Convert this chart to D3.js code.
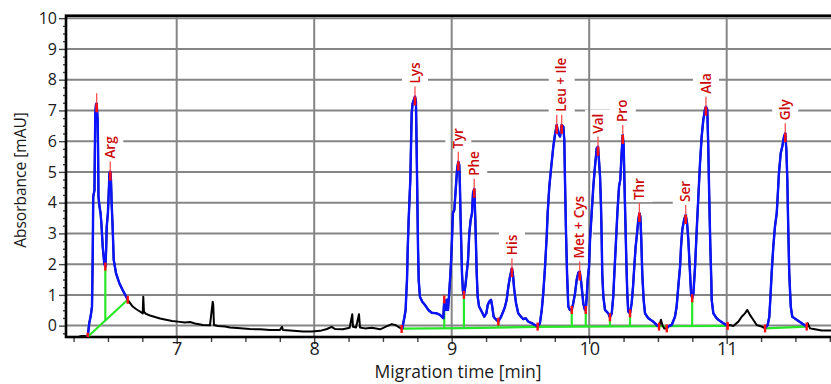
<!DOCTYPE html>
<html lang="en">
<head>
<meta charset="UTF-8">
<title>Electropherogram - amino acids</title>
<script src="https://d3js.org/d3.v7.min.js"></script>
<style>
  body { margin: 0; background: #fff; }
  text { font-family: "Open Sans", sans-serif; }
</style>
</head>
<body>
<div id="chart"></div>
<script>
const width = 831, height = 384;

// signal: [migration time (min), absorbance (mAU)]
const trace = [
  [6.284,-0.37],[6.31,-0.34],[6.33,-0.34],[6.345,-0.35],[6.353,-0.36],
  [6.364,0.08],[6.375,0.32],[6.384,0.62],[6.389,2.14],[6.391,3.10],[6.393,4.20],[6.402,4.40],
  [6.408,6.90],[6.413,7.18],[6.418,7.23],[6.425,6.70],[6.428,5.82],[6.431,4.20],[6.437,3.93],
  [6.447,3.63],[6.453,3.28],[6.462,2.57],[6.473,2.03],[6.481,1.92],[6.487,2.46],[6.491,3.22],
  [6.500,3.67],[6.508,4.58],[6.511,4.96],[6.517,5.01],[6.522,4.74],[6.527,3.98],[6.535,3.11],
  [6.542,2.14],[6.559,1.70],[6.583,1.38],[6.607,1.16],[6.644,0.84],
  [6.660,0.74],[6.680,0.62],[6.704,0.54],[6.733,0.46],[6.753,0.40],[6.757,0.94],[6.762,0.45],
  [6.777,0.38],[6.806,0.33],[6.842,0.28],[6.879,0.23],[6.922,0.19],[6.966,0.15],[7.009,0.13],
  [7.060,0.10],[7.097,0.12],[7.133,0.07],[7.191,0.02],[7.242,0.01],[7.262,0.78],[7.266,0.67],
  [7.271,0.02],[7.300,-0.01],[7.351,-0.03],[7.388,-0.06],[7.439,-0.08],[7.533,-0.11],[7.606,-0.12],
  [7.679,-0.14],[7.751,-0.14],[7.766,-0.04],[7.773,-0.14],[7.824,-0.16],[7.919,-0.19],[7.984,-0.19],
  [8.043,-0.17],[8.093,-0.11],[8.127,-0.04],[8.151,-0.11],[8.209,-0.12],[8.258,-0.07],[8.277,0.37],
  [8.282,-0.04],[8.304,-0.06],[8.326,0.37],[8.333,-0.06],[8.369,-0.09],[8.420,-0.07],[8.479,-0.12],
  [8.522,-0.03],[8.564,0.05],[8.595,0.01],[8.624,-0.07],[8.636,-0.11],
  [8.641,-0.09],[8.648,0.08],[8.655,0.24],[8.665,0.51],[8.670,1.05],[8.675,1.49],[8.680,2.46],
  [8.687,3.44],[8.692,3.98],[8.699,4.74],[8.704,5.82],[8.709,6.91],[8.716,7.23],[8.733,7.45],
  [8.740,7.30],[8.745,5.82],[8.750,4.20],[8.755,2.57],[8.760,1.49],[8.769,0.94],[8.786,0.78],
  [8.806,0.67],[8.830,0.51],[8.855,0.42],[8.891,0.40],[8.915,0.35],[8.939,0.24],[8.946,0.85],
  [8.959,0.51],[8.966,0.84],[8.973,0.51],[8.980,0.94],[8.988,1.49],[8.995,2.03],[9.002,2.79],
  [9.009,3.66],[9.019,3.76],[9.029,4.41],[9.039,5.07],[9.048,5.33],[9.055,5.23],[9.060,4.52],
  [9.065,3.44],[9.070,2.57],[9.075,1.70],[9.082,1.11],[9.089,1.00],[9.099,1.27],[9.109,1.70],
  [9.119,2.14],[9.128,3.00],[9.138,3.44],[9.148,3.66],[9.155,4.31],[9.164,4.45],[9.167,4.09],
  [9.172,3.44],[9.177,2.57],[9.182,1.70],[9.189,0.94],[9.199,0.62],[9.218,0.46],[9.237,0.29],
  [9.252,0.40],[9.262,0.67],[9.273,0.78],[9.286,0.84],[9.295,0.62],[9.305,0.29],[9.320,0.21],
  [9.339,0.13],[9.359,0.29],[9.375,0.46],[9.388,0.62],[9.400,0.84],[9.412,1.27],[9.424,1.59],
  [9.438,1.87],[9.446,1.65],[9.455,1.16],[9.468,0.73],[9.484,0.40],[9.504,0.29],[9.521,0.21],
  [9.538,0.24],[9.557,0.13],[9.582,0.08],[9.606,0.02],[9.625,-0.03],[9.642,0.08],[9.655,0.51],
  [9.666,1.05],[9.679,1.92],[9.691,2.90],[9.698,3.66],[9.710,4.52],[9.722,5.07],[9.739,5.82],
  [9.751,6.20],[9.764,6.53],[9.775,6.26],[9.788,6.15],[9.800,6.53],[9.812,6.47],[9.819,6.04],
  [9.824,4.74],[9.831,3.11],[9.839,1.70],[9.848,0.62],[9.860,0.51],[9.873,0.51],[9.884,0.73],
  [9.897,1.05],[9.909,1.49],[9.921,1.72],[9.931,1.76],[9.940,1.49],[9.950,1.05],[9.957,0.73],
  [9.969,0.51],[9.975,0.51],[9.982,0.94],[9.989,1.49],[9.999,1.92],[10.006,2.79],[10.018,3.66],
  [10.030,4.52],[10.042,5.17],[10.055,5.77],[10.064,5.82],[10.071,5.39],[10.079,4.85],[10.086,3.87],
  [10.091,2.79],[10.095,1.70],[10.103,0.94],[10.115,0.51],[10.139,0.40],[10.151,0.27],[10.164,0.40],
  [10.175,0.94],[10.183,1.70],[10.193,2.57],[10.205,3.66],[10.217,4.52],[10.226,4.74],[10.236,5.61],
  [10.244,6.20],[10.251,5.82],[10.256,4.74],[10.263,3.44],[10.270,2.14],[10.277,1.05],[10.284,0.46],
  [10.297,0.40],[10.309,0.73],[10.319,1.27],[10.328,1.92],[10.338,2.57],[10.348,3.00],[10.357,3.44],
  [10.365,3.66],[10.372,3.55],[10.379,2.79],[10.386,1.70],[10.396,0.84],[10.406,0.40],[10.430,0.24],
  [10.466,0.13],[10.498,-0.01],[10.508,-0.03],[10.522,0.19],[10.532,0.02],[10.546,-0.09],[10.564,-0.09],
  [10.580,-0.01],[10.600,0.02],[10.624,0.29],[10.636,0.62],[10.648,1.27],[10.661,1.92],[10.668,2.57],
  [10.677,3.11],[10.690,3.44],[10.702,3.60],[10.712,3.33],[10.721,2.79],[10.731,1.92],[10.741,1.05],
  [10.749,0.89],[10.758,1.05],[10.770,1.92],[10.782,3.11],[10.794,4.20],[10.806,5.28],[10.818,6.15],
  [10.830,6.69],[10.842,7.02],[10.849,7.12],[10.859,7.02],[10.866,5.82],[10.873,4.20],[10.881,2.57],
  [10.888,1.49],[10.891,0.84],[10.903,0.40],[10.927,0.24],[10.939,0.19],[10.975,0.08],[11.007,-0.01],
  [11.024,0.02],[11.048,-0.01],[11.085,0.13],[11.109,0.29],[11.133,0.40],[11.150,0.51],[11.169,0.35],
  [11.193,0.19],[11.218,0.02],[11.255,-0.03],[11.279,-0.09],
  [11.298,0.02],[11.310,0.29],[11.317,0.84],[11.327,1.70],[11.339,2.57],[11.351,3.22],[11.364,3.66],
  [11.371,4.20],[11.380,4.96],[11.393,5.61],[11.404,5.82],[11.417,6.15],[11.426,6.26],[11.434,5.72],
  [11.441,4.74],[11.448,3.11],[11.455,1.70],[11.466,0.62],[11.477,0.29],[11.509,0.19],[11.545,0.08],
  [11.582,-0.03],[11.589,0.08],[11.606,-0.09],[11.642,-0.12],[11.691,-0.16],[11.759,-0.16]
];

// integrated (blue) ranges of the trace
const integrated = [[6.353, 6.644], [8.636, 10.508], [10.564, 11.007], [11.279, 11.582]];

// baseline segments (green)
const baselines = [
  [[6.353, -0.36], [6.644, 0.84]],
  [[8.636, -0.10], [9.1, -0.08], [9.625, -0.04], [10.5, -0.02], [11.007, -0.01]],
  [[11.279, -0.09], [11.582, -0.03]]
];

// drop lines between peaks and peak start/end marks
const dropTimes = [6.481, 8.946, 9.089, 9.339, 9.873, 9.975, 10.151, 10.297, 10.749];
const boundaryTimes = [6.353, 6.481, 6.644, 8.636, 8.946, 9.089, 9.339, 9.625, 9.873, 9.975,
  10.151, 10.297, 10.508, 10.564, 10.749, 11.007, 11.279, 11.582];

// peak apexes and names
const peakTimes  = [6.418, 6.517, 8.733, 9.048, 9.164, 9.438, 9.764, 9.800, 9.931, 10.064, 10.244, 10.365, 10.702, 10.849, 11.426];
const peakValues = [7.23, 5.01, 7.45, 5.33, 4.45, 1.87, 6.53, 6.53, 1.76, 5.82, 6.20, 3.66, 3.60, 7.12, 6.26];
const peakNames  = ["", "Arg", "Lys", "Tyr", "Phe", "His", "", "Leu + Ile", "Met + Cys", "Val", "Pro", "Thr", "Ser", "Ala", "Gly"];

const xMajor = [7, 8, 9, 10, 11];
const yMajor = [0, 1, 2, 3, 4, 5, 6, 7, 8, 9, 10];

const margin = { left: 66, top: 15.7, bottom: 337 };
const x = d3.scaleLinear().domain([6.195, 11.8]).range([margin.left, margin.left + (11.8 - 6.195) * 137.5]);
const y = d3.scaleLinear().domain([-0.37, 10.08]).range([margin.bottom, margin.top]);

const svg = d3.select("#chart").append("svg")
  .attr("width", width).attr("height", height)
  .style("background", "#fff");

svg.append("defs").append("clipPath").attr("id", "plot")
  .append("rect")
  .attr("x", x.range()[0]).attr("y", y.range()[1])
  .attr("width", x.range()[1] - x.range()[0]).attr("height", y.range()[0] - y.range()[1]);

const gridColor = "#858585";

// horizontal grid
svg.append("g").selectAll("line").data(yMajor).enter().append("line")
  .attr("x1", x.range()[0]).attr("x2", x.range()[1])
  .attr("y1", d => y(d)).attr("y2", d => y(d))
  .attr("stroke", gridColor).attr("stroke-width", 2);

const boxLayer = svg.append("g");

// vertical grid
svg.append("g").selectAll("line").data(xMajor).enter().append("line")
  .attr("x1", d => x(d)).attr("x2", d => x(d))
  .attr("y1", y.range()[1]).attr("y2", y.range()[0])
  .attr("stroke", gridColor).attr("stroke-width", 2);

// axes
const yAxis = svg.append("g").attr("transform", `translate(${margin.left},0)`)
  .call(d3.axisLeft(y).tickValues(yMajor).tickSize(7).tickPadding(2));
const yMinor = d3.range(-1, 41).map(i => i * 0.25).filter(d => d % 1 !== 0);
svg.append("g").attr("transform", `translate(${margin.left},0)`)
  .call(d3.axisLeft(y).tickValues(yMinor).tickSize(3).tickFormat(""));

const xAxis = svg.append("g").attr("transform", `translate(0,${margin.bottom})`)
  .call(d3.axisBottom(x).tickValues(xMajor).tickSize(7).tickFormat(d3.format("d")));
const xMinor = d3.range(25, 48).map(i => i * 0.25).filter(d => d % 1 !== 0);
svg.append("g").attr("transform", `translate(0,${margin.bottom})`)
  .call(d3.axisBottom(x).tickValues(xMinor).tickSize(5).tickFormat(""));

svg.selectAll(".domain").remove();
svg.selectAll(".tick line").attr("stroke", "#444").attr("stroke-width", 1.4);
yAxis.selectAll("text").attr("font-size", 16).attr("fill", "#1a1a1a").attr("font-weight", 500).style("font-family", "Open Sans");
xAxis.selectAll("text").attr("font-size", 18).attr("fill", "#1a1a1a").attr("font-weight", 500).attr("y", 5).style("font-family", "Open Sans");

// frame
svg.append("rect")
  .attr("x", x.range()[0]).attr("y", y.range()[1])
  .attr("width", x.range()[1] - x.range()[0]).attr("height", y.range()[0] - y.range()[1])
  .attr("fill", "none").attr("stroke", "#000").attr("stroke-width", 2.6);

// axis titles
svg.append("text")
  .attr("transform", `translate(26,180) rotate(-90)`)
  .attr("text-anchor", "middle").attr("font-size", 15.5).attr("font-weight", 500).attr("fill", "#1a1a1a")
  .text("Absorbance [mAU]");
svg.append("text")
  .attr("x", 458).attr("y", 378)
  .attr("text-anchor", "middle").attr("font-size", 17.5).attr("font-weight", 500).attr("fill", "#1a1a1a")
  .text("Migration time [min]");

const plot = svg.append("g").attr("clip-path", "url(#plot)");

const bisect = d3.bisector(d => d[0]).left;
const interp = (pts, t) => {
  const i = Math.min(Math.max(bisect(pts, t), 1), pts.length - 1);
  const a = pts[i - 1], b = pts[i];
  return a[1] + (b[1] - a[1]) * (t - a[0]) / (b[0] - a[0]);
};
const baselineAt = t => {
  const seg = baselines.find(s => t >= s[0][0] && t <= s[s.length - 1][0]);
  return interp(seg, t);
};

const line = d3.line().x(d => x(d[0])).y(d => y(d[1]));
const green = "#28e628";

// baseline + drop lines
baselines.forEach(s => {
  plot.append("path").attr("d", line(s))
    .attr("fill", "none").attr("stroke", green).attr("stroke-width", 2.2);
});
plot.append("g").selectAll("line").data(dropTimes).enter().append("line")
  .attr("x1", d => x(d)).attr("x2", d => x(d))
  .attr("y1", d => y(interp(trace, d))).attr("y2", d => y(baselineAt(d)))
  .attr("stroke", green).attr("stroke-width", 2.2);

// trace
plot.append("path").attr("d", line(trace))
  .attr("fill", "none").attr("stroke", "#000").attr("stroke-width", 2)
  .attr("stroke-linejoin", "round");
integrated.forEach(([a, b]) => {
  plot.append("path").attr("d", line(trace.filter(d => d[0] >= a && d[0] <= b)))
    .attr("fill", "none").attr("stroke", "#0a14ff").attr("stroke-width", 2.4)
    .attr("stroke-linejoin", "round");
});

// peak boundary marks
plot.append("g").selectAll("line").data(boundaryTimes).enter().append("line")
  .attr("x1", d => x(d)).attr("x2", d => x(d))
  .attr("y1", d => y(interp(trace, d)) - 4).attr("y2", d => y(interp(trace, d)) + 4)
  .attr("stroke", "#ff1010").attr("stroke-width", 2.4);

// apex marks
const apex = plot.append("g").selectAll("g").data(peakTimes).enter().append("g");
apex.append("line")
  .attr("x1", d => x(d)).attr("x2", d => x(d))
  .attr("y1", (d, i) => y(peakValues[i]) - 10).attr("y2", (d, i) => y(peakValues[i]))
  .attr("stroke", "#ff5050").attr("stroke-width", 1.3);
apex.append("line")
  .attr("x1", d => x(d)).attr("x2", d => x(d))
  .attr("y1", (d, i) => y(peakValues[i])).attr("y2", (d, i) => y(peakValues[i]) + 9)
  .attr("stroke", "#ff1010").attr("stroke-width", 2.6);

// labels
peakNames.forEach((name, i) => {
  if (!name) return;
  const cx = x(peakTimes[i]), by = y(peakValues[i]) - 13;
  const t = svg.append("text")
    .attr("transform", `translate(${cx},${by}) rotate(-90)`)
    .attr("dy", "0.35em")
    .attr("font-size", 13.5).attr("font-weight", 600).attr("fill", "#cc0a0a")
    .text(name);
  const len = t.node().getComputedTextLength();
  boxLayer.append("rect")
    .attr("x", cx - 13).attr("width", 26)
    .attr("y", by - len - 4).attr("height", len + 6)
    .attr("fill", "#fff");
});
</script>
</body>
</html>
